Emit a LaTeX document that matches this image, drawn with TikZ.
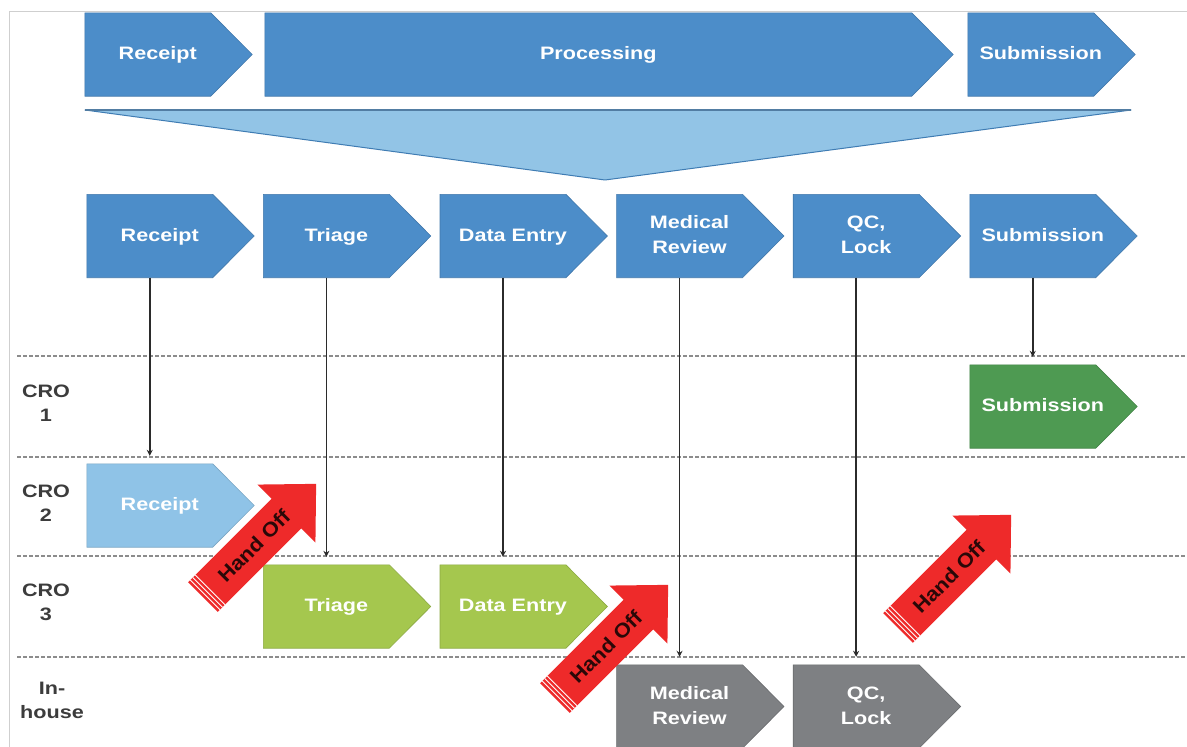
\documentclass[tikz,border=0pt]{standalone}
\usepackage{fontspec}
\setmainfont{Liberation Sans}
\usetikzlibrary{arrows.meta,backgrounds}
\definecolor{blueC}{HTML}{4C8DC9}
\definecolor{blueE}{HTML}{3E78AE}
\definecolor{lblueC}{HTML}{8FC3E7}
\definecolor{lgreenC}{HTML}{A5C74E}
\definecolor{dgreenC}{HTML}{4E9A52}
\definecolor{grayC}{HTML}{7E8083}
\definecolor{redC}{HTML}{EE2A2A}
\definecolor{wedgeF}{HTML}{92C4E6}
\definecolor{wedgeE}{HTML}{3F7CB3}
\definecolor{dotC}{HTML}{8C8C8C}
\definecolor{frameC}{HTML}{CFCFCF}
\definecolor{lineC}{HTML}{2B2B2B}
\definecolor{laneT}{HTML}{3C3C3C}
\definecolor{hoT}{HTML}{2A0808}
\newcommand\chevtxt[1]{\makebox[0pt]{\hspace*{20pt}\scalebox{1.2}[1]{\begin{tabular}{@{}c@{}}#1\end{tabular}}}}
\newcommand\lanetxt[1]{\scalebox{1.2}[1]{\begin{tabular}{@{}c@{}}#1\end{tabular}}}
\newcommand\handoff[2]{%
  \begin{scope}[shift={#2}, rotate=45]
    \path[fill=redC] (0,-21) -- (118,-21) -- (118,-41) -- (160,0) -- (118,41) -- (118,21) -- (0,21) -- cycle;
    \draw[white, line width=0.9pt] (3,-21) -- (3,21) (6.5,-21) -- (6.5,21) (10,-21) -- (10,21);
    \node[hotext] (#1) at (72,0) {\scalebox{1.1}[1]{Hand Off}};
  \end{scope}}
\begin{document}
\begin{tikzpicture}[x=1pt,y=-1pt,
  chev/.style={minimum width=125.5pt, minimum height=83pt, inner sep=0pt, text=white,
    font=\bfseries\fontsize{18}{25}\selectfont},
  lanelbl/.style={inner sep=0pt, text=laneT, font=\bfseries\fontsize{18}{24}\selectfont},
  hotext/.style={rotate=45, inner sep=0pt, text=hoT, font=\bfseries\fontsize{20}{22}\selectfont},
  conn/.style={draw=lineC, line width=1.6pt, -{Stealth[length=6pt,width=6pt]}, shorten >=8pt},
  dotline/.style={draw=dotC, line width=1.6pt, dash pattern=on 3.5pt off 2.5pt},
  chevshape/.style={line width=0.6pt}]
\useasboundingbox (0,0) rectangle (1187,747);

% top row
\node[chev] (tR) at (147.75,54.5) {\chevtxt{Receipt}};
\node[chev, minimum width=646.5pt] (tP) at (588.25,54.5) {\chevtxt{Processing}};
\node[chev] (tS) at (1030.75,54.5) {\chevtxt{Submission}};

% second row
\node[chev] (sR) at (149.75,236) {\chevtxt{Receipt}};
\node[chev] (sT) at (326.35,236) {\chevtxt{Triage}};
\node[chev] (sD) at (502.95,236) {\chevtxt{Data Entry}};
\node[chev] (sM) at (679.55,236) {\chevtxt{Medical\\Review}};
\node[chev] (sQ) at (856.15,236) {\chevtxt{QC,\\Lock}};
\node[chev] (sS) at (1032.75,236) {\chevtxt{Submission}};

% lanes
\node[chev] (lS) at (1032.75,406.5) {\chevtxt{Submission}};
\node[chev] (lR) at (149.75,505.5) {\chevtxt{Receipt}};
\node[chev] (lT) at (326.35,606.5) {\chevtxt{Triage}};
\node[chev] (lD) at (502.95,606.5) {\chevtxt{Data Entry}};
\node[chev] (lM) at (679.55,706.5) {\chevtxt{Medical\\Review}};
\node[chev] (lQ) at (856.15,706.5) {\chevtxt{QC,\\Lock}};

% lane labels
\node[lanelbl] (c1) at (46,405) {\lanetxt{CRO\\1}};
\node[lanelbl] (c2) at (46,505) {\lanetxt{CRO\\2}};
\node[lanelbl] (c3) at (46,604) {\lanetxt{CRO\\3}};
\node[lanelbl] (c4) at (52,702) {\lanetxt{In-\\house}};

% connectors
\draw[conn] (sR.south) -- (lR.north);
\draw[conn] (sT.south) -- (lT.north);
\draw[conn] (sD.south) -- (lD.north);
\draw[conn] (sM.south) -- (lM.north);
\draw[conn] (sQ.south) -- (lQ.north);
\draw[conn] (sS.south) -- (lS.north);

% hand off arrows
\handoff{ho1}{(203,597)}
\handoff{ho2}{(555,698)}
\handoff{ho3}{(898,628)}

\begin{scope}[on background layer]
  \fill[white] (0,0) rectangle (1187,747);
  \draw[frameC, line width=1pt] (9.5,747) -- (9.5,11) -- (1187,11);
  \path[fill=wedgeF, draw=wedgeE, line width=1pt, line join=round] (85,110) -- (1131,110) -- (605,180) -- cycle;
  \draw[wedgeE!70!gray, line width=2pt] (85,110) -- (1131,110);
  \foreach \yy in {356,457,556,657} \draw[dotline] (17,\yy) -- (1187,\yy);
  \foreach \n/\c in {tR/blueC,tP/blueC,tS/blueC,sR/blueC,sT/blueC,sD/blueC,sM/blueC,sQ/blueC,sS/blueC,
      lS/dgreenC,lR/lblueC,lT/lgreenC,lD/lgreenC,lM/grayC,lQ/grayC}
    \path[fill=\c, draw=\c!85!black, chevshape] (\n.north west) -- (\n.north east) -- ([xshift=41.5pt]\n.east) -- (\n.south east) -- (\n.south west) -- cycle;
\end{scope}
\end{tikzpicture}
\end{document}
